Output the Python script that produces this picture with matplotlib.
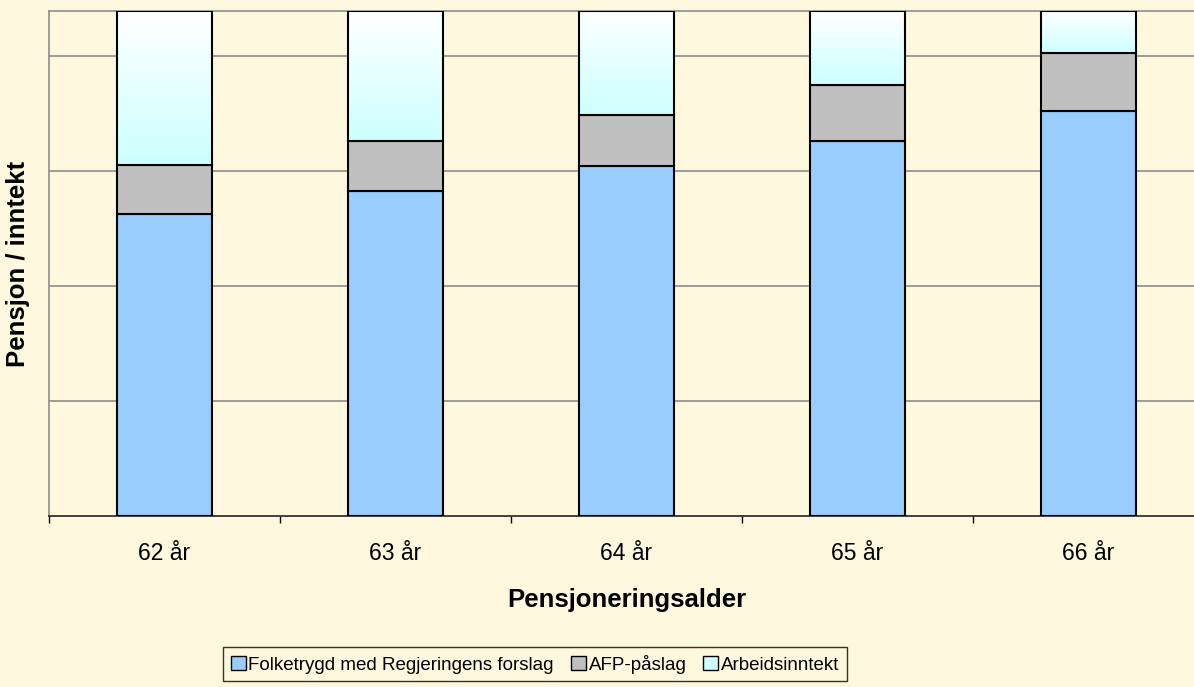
import matplotlib
matplotlib.use("Agg")
import matplotlib.pyplot as plt
import numpy as np
from matplotlib.patches import Patch
from matplotlib.colors import LinearSegmentedColormap

plt.rcParams['font.family'] = ['Liberation Sans', 'DejaVu Sans']

categories = ["62 år", "63 år", "64 år", "65 år", "66 år"]
folketrygd = [2.623, 2.829, 3.043, 3.261, 3.522]
afp = [0.429, 0.432, 0.443, 0.487, 0.504]
arbeid = [1.339, 1.130, 0.904, 0.643, 0.365]
series_names = ["Folketrygd med Regjeringens forslag", "AFP-påslag", "Arbeidsinntekt"]

bg = "#FEF9DE"
c_blue = "#99CCFF"
c_gray = "#C0C0C0"
c_cyan = "#CCFFFF"

fig = plt.figure(figsize=(11.94, 6.87), dpi=100, facecolor=bg)
ax = fig.add_axes([49/1194, (687-516)/687, (1204-49)/1194, (516-11)/687])
ax.set_facecolor(bg)

x = np.arange(len(categories))
w = 0.407
blue = np.array(folketrygd)
gray = np.array(afp)
light = np.array(arbeid)

ax.bar(x, blue, w, color=c_blue, edgecolor="black", linewidth=1.5, zorder=3)
ax.bar(x, gray, w, bottom=blue, color=c_gray, edgecolor="black", linewidth=1.5, zorder=3)
tops = ax.bar(x, light, w, bottom=blue + gray, color="none", edgecolor="black", linewidth=1.5, zorder=4)

grad = np.linspace(0, 1, 256).reshape(-1, 1)
cmap = LinearSegmentedColormap.from_list("g", ["#FFFFFF", c_cyan])
for rect in tops:
    x0 = rect.get_x(); y0 = rect.get_y()
    ax.imshow(grad, cmap=cmap, aspect="auto", origin="upper",
              extent=[x0, x0 + rect.get_width(), y0, y0 + rect.get_height()],
              zorder=3)

total = (blue + gray + light).max()
ax.set_xlim(-0.5, len(categories) - 0.5)
ax.set_ylim(0, total)

ax.set_yticks([1, 2, 3, 4])
ax.set_yticklabels([])
ax.tick_params(axis="y", length=0)
ax.grid(axis="y", color="#8C8C8C", linewidth=1.2, zorder=0)

ax.set_xticks(x)
ax.set_xticklabels(categories, fontsize=16.5)
ax.tick_params(axis="x", length=0, pad=19)
ax.set_xticks(np.arange(-0.5, len(categories)), minor=True)
ax.tick_params(axis="x", which="minor", length=5, width=1, color="black", direction="out")

for s in ["top", "right", "left"]:
    ax.spines[s].set_color("#8C8C8C")
    ax.spines[s].set_linewidth(1.2)
ax.spines["bottom"].set_color("#222222")
ax.spines["bottom"].set_linewidth(1.2)

fig.text(18/1194, 1 - 264/687, "Pensjon / inntekt", rotation=90, fontsize=18.5,
         fontweight="bold", ha="center", va="center")
fig.text(627/1194, 1 - 600/687, "Pensjoneringsalder", fontsize=18.5,
         fontweight="bold", ha="center", va="center")

handles = [Patch(facecolor=c_blue, edgecolor="black"),
           Patch(facecolor=c_gray, edgecolor="black"),
           Patch(facecolor=c_cyan, edgecolor="black")]
leg = fig.legend(handles, series_names, loc="center", bbox_to_anchor=(535/1194, 1 - 664/687),
                 ncol=3, fontsize=13.5, frameon=True, fancybox=False, edgecolor="black",
                 facecolor=bg, handlelength=0.8, handleheight=0.8, handletextpad=0.15,
                 columnspacing=0.9, borderpad=0.4, borderaxespad=0)
leg.get_frame().set_linewidth(1.0)

fig.savefig("out.png", dpi=100, facecolor=bg)
